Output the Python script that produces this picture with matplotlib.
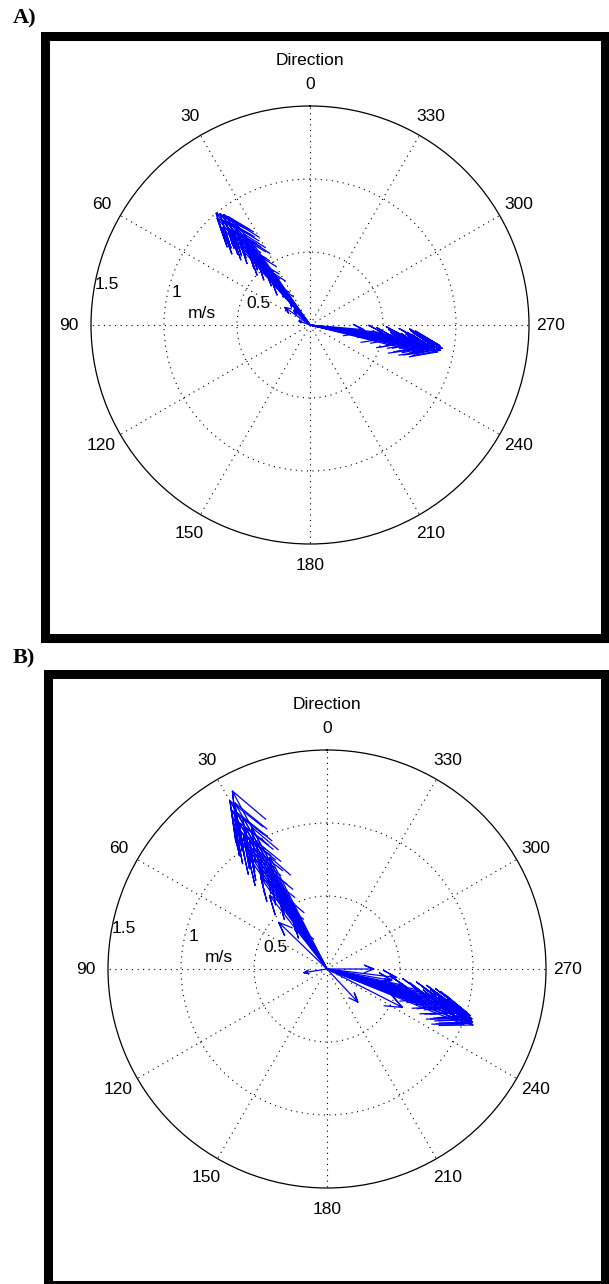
import numpy as np
import matplotlib
matplotlib.use('Agg')
from matplotlib import pyplot as plt
from matplotlib.patches import Rectangle

# current vectors: direction (deg, counter-clockwise from north) and speed (m/s)
a_dir = [40, 39, 41, 38, 40, 37, 39, 42, 38, 36, 40, 37, 39, 41, 38, 36, 40, 37, 35, 39,
         38, 41, 36, 40, 37, 39, 35, 42, 38, 36, 40, 44, 55, 48, 70,
         260, 259, 261, 258, 260, 259, 261, 262, 258, 260, 259, 257, 261, 259, 262, 258,
         260, 256, 259, 261, 263, 258, 257, 262, 259, 264, 257, 261, 265, 258]
a_spd = [1.00, 0.98, 0.97, 0.96, 0.94, 0.93, 0.92, 0.90, 0.89, 0.87, 0.86, 0.84, 0.83, 0.81,
         0.79, 0.77, 0.75, 0.73, 0.70, 0.68, 0.65, 0.62, 0.58, 0.55, 0.51, 0.47, 0.43, 0.38,
         0.33, 0.28, 0.22, 0.15, 0.21, 0.15, 0.08,
         0.92, 0.91, 0.90, 0.89, 0.88, 0.87, 0.86, 0.85, 0.84, 0.83, 0.82, 0.80, 0.79, 0.78,
         0.76, 0.75, 0.73, 0.71, 0.69, 0.67, 0.65, 0.62, 0.60, 0.57, 0.54, 0.50, 0.46, 0.42,
         0.37, 0.30]

b_dir = [28, 30, 29, 31, 30, 32, 29, 31, 33, 30, 28, 32, 34, 31, 29, 33, 35, 30, 32, 27,
         34, 31, 36, 29, 33, 30, 38, 32, 35, 28, 31, 34, 37, 30, 46,
         249, 250, 251, 249, 252, 250, 248, 251, 253, 250, 252, 249, 254, 251, 253, 250,
         255, 252, 254, 251, 256, 253, 255, 252, 257, 254, 256, 258, 255, 260,
         99, 270, 223, 243, 263]
b_spd = [1.38, 1.33, 1.30, 1.27, 1.24, 1.22, 1.19, 1.17, 1.15, 1.12, 1.10, 1.08, 1.05, 1.03,
         1.00, 0.97, 0.94, 0.92, 0.89, 0.86, 0.83, 0.80, 0.77, 0.74, 0.70, 0.67, 0.64, 0.60,
         0.56, 0.52, 0.47, 0.42, 0.36, 0.28, 0.46,
         1.07, 1.06, 1.05, 1.04, 1.03, 1.02, 1.01, 1.00, 0.99, 0.98, 0.96, 0.95, 0.94, 0.92,
         0.90, 0.88, 0.86, 0.84, 0.82, 0.80, 0.77, 0.74, 0.71, 0.68, 0.65, 0.62, 0.58, 0.54,
         0.50, 0.45,
         0.16, 0.32, 0.31, 0.58, 0.48]

angle_ticks = [0, 30, 60, 90, 120, 150, 180, 210, 240, 270, 300, 330]
ring_ticks = [0.5, 1, 1.5]

W, H = 609, 1284
plt.rcParams['font.family'] = ['Liberation Sans', 'DejaVu Sans']
fig = plt.figure(figsize=(W / 100, H / 100), dpi=100)


def box(x, y, w, h):
    return [x / W, 1 - (y + h) / H, w / W, h / H]


def compass(rect, dirs, spds):
    ax = fig.add_axes(rect, projection='polar')
    ax.set_theta_zero_location('N')
    ax.set_theta_direction(1)
    ax.set_ylim(0, ring_ticks[-1])
    ax.set_xticks(np.deg2rad(angle_ticks))
    ax.set_xticklabels([])
    ax.set_yticks(ring_ticks[:-1])
    ax.set_yticklabels([])
    ax.grid(True, color='k', lw=0.8, ls=(0, (1, 4)))
    ax.spines['polar'].set_linewidth(0.9)
    ax.tick_params(length=0)

    # matlab style compass arrows
    dt = np.arctan(0.1)
    hb = np.hypot(0.8, 0.08)
    for d, s in zip(dirs, spds):
        t = np.deg2rad(d)
        ax.plot([t, t, t + dt, t, t - dt], [0, s, s * hb, s, s * hb],
                color='#0000ff', lw=0.9)

    fs = 12.5
    for a in angle_ticks:
        ax.text(np.deg2rad(a), 1.65, str(a), ha='center', va='center', fontsize=fs)
    ax.text(0, 1.81, 'Direction', ha='center', va='center', fontsize=fs)
    for lab, th, r in [('1.5', 78.6, 1.418), ('1', 76.2, 0.945), ('0.5', 68, 0.384),
                       ('m/s', 83.7, 0.745)]:
        ax.text(np.deg2rad(th), r, lab, ha='center', va='center', fontsize=fs)
    return ax


compass(box(91, 106, 438, 438), a_dir, a_spd)
compass(box(108, 750, 438, 438), b_dir, b_spd)

# thick black frames round each panel
for x0, y0, x1, y1 in [(44.7, 36, 604.5, 637.5), (48.3, 673.8, 604.5, 1284.5)]:
    fig.add_artist(Rectangle((x0 / W, 1 - y1 / H), (x1 - x0) / W, (y1 - y0) / H,
                             transform=fig.transFigure, fill=False, ec='k', lw=6.5,
                             joinstyle='miter'))

fig.text(13 / W, 1 - 23 / H, 'A)', family='Liberation Serif', weight='bold',
         fontsize=16, va='baseline')
fig.text(13 / W, 1 - 663 / H, 'B)', family='Liberation Serif', weight='bold',
         fontsize=16, va='baseline')

fig.savefig('out.png', dpi=100)
